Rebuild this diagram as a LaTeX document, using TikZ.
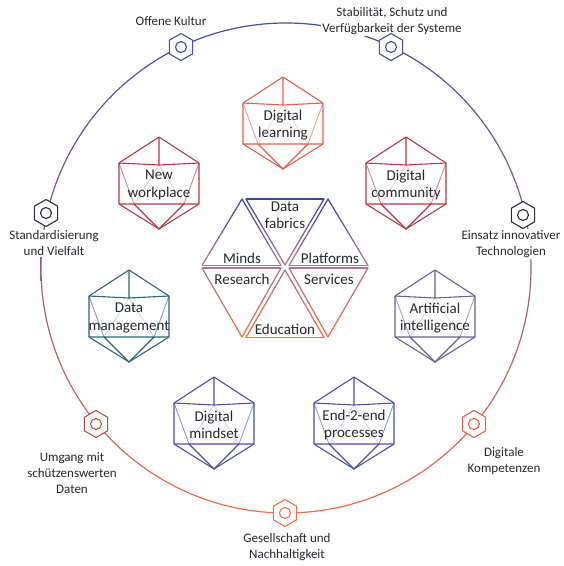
\documentclass[tikz,border=0pt]{standalone}
\usepackage{fontspec}
\setmainfont{Carlito}
\usetikzlibrary{positioning,
        calc,
        shapes.geometric}
\usepackage{xcolor}

\definecolor{ringblue}{HTML}{454CA6}
\definecolor{ringmid}{HTML}{8E5C7C}
\definecolor{ringorange}{HTML}{F0704C}
\definecolor{hexdark}{HTML}{2E2E38}
\definecolor{hexbrown}{HTML}{A8553F}
\definecolor{triblue}{HTML}{3E46AC}
\definecolor{trimid}{HTML}{B0788C}
\definecolor{triorange}{HTML}{F0704C}
\definecolor{icoorange}{HTML}{E2604C}
\definecolor{icored}{HTML}{B23A48}
\definecolor{icoteal}{HTML}{2F6478}
\definecolor{icoblue}{HTML}{4A50A4}
\definecolor{icogrey}{HTML}{66648C}
\definecolor{textdark}{HTML}{26292E}

\tikzset{
    hexnode/.style={regular polygon,regular polygon sides=6,shape border rotate=30,
        minimum size=27pt,inner sep=0pt,fill=white,draw=#1,line width=1.1pt,
        path picture={\draw[#1,line width=1.1pt] (path picture bounding box.center) circle (5.5pt);}},
    ringlabel/.style={align=center,fill=white,inner sep=1pt,text=textdark,
        font=\fontsize{13}{16}\selectfont},
    bodylabel/.style={align=center,inner sep=0pt,text=textdark,
        font=\fontsize{15}{17.5}\selectfont}
}

% slanted edge, coloured in small steps
\newcommand{\gradedge}[4]{
    \foreach \i in {0,...,11}{
        \pgfmathsetmacro{\p}{\i*100/11}
        \pgfmathsetmacro{\u}{\i/12}
        \pgfmathsetmacro{\v}{(\i+1)/12}
        \draw[#4!\p!#3,line width=1.25pt,line cap=round] ($(#1)!\u!(#2)$) -- ($(#1)!\v!(#2)$);
    }
}

\begin{document}
\begin{tikzpicture}[x=1pt,y=-1pt]
    \useasboundingbox (0,0) rectangle (564,566);

    % outer ring
    \begin{scope}[even odd rule]
        \clip (286,268) circle (245.6pt) (286,268) circle (244.4pt);
        \shade[top color=ringblue,middle color=ringmid,bottom color=ringorange] (30,20) rectangle (540,516);
    \end{scope}

    \node [ringlabel] (kulturtext) at (171,21) {Offene Kultur};
    \node [ringlabel] (systemtext) at (392,21) {Stabilität, Schutz und\\Verfügbarkeit der Systeme};
    \node [ringlabel] (vielfalttext) at (54,243.5) {Standardisierung\\und Vielfalt};
    \node [ringlabel] (technotext) at (511,244) {Einsatz innovativer\\Technologien};
    \node [ringlabel] (datentext) at (72,473) {Umgang mit\\schützenswerten\\Daten};
    \node [ringlabel] (kompetenztext) at (504,461.5) {Digitale\\Kompetenzen};
    \node [ringlabel] (gesellschafttext) at (287,547.5) {Gesellschaft und\\Nachhaltigkeit};

    \node [hexnode=ringblue] (kultur) at (181,47) {};
    \node [hexnode=ringblue] (system) at (391,47) {};
    \node [hexnode=hexdark] (vielfalt) at (46,213) {};
    \node [hexnode=hexdark] (techno) at (523,215) {};
    \node [hexnode=hexbrown] (daten) at (96,424) {};
    \node [hexnode=icoorange] (kompetenz) at (474,424) {};
    \node [hexnode=ringorange] (gesellschaft) at (285,513) {};

    % bodies around the middle
    \foreach \name/\cx/\cy/\col/\txt in {
        learning/283/123/icoorange/{Digital\\learning},
        workplace/159/183/icored/{New\\workplace},
        community/406/183/icored/{Digital\\community},
        management/129/316/icoteal/{Data\\management},
        intelligence/435/316/icogrey/{Artificial\\intelligence},
        mindset/214/423/icoblue/{Digital\\mindset},
        processes/354/423/icoblue/{End-2-end\\processes}}{
        \begin{scope}[shift={(\cx,\cy)}]
            \draw[\col!25,line width=0.8pt] (-25,21) -- (0,-18) -- (25,21);
            \draw[\col!60,line width=0.9pt] (-40,-20) -- (-25,21) (40,-20) -- (25,21);
            \draw[\col,line width=1.1pt,line join=round] (0,-46) -- (40,-20) -- (40,21) -- (0,46) -- (-40,21) -- (-40,-20) -- cycle;
            \draw[\col,line width=1.1pt] (0,-46) -- (0,-18) (-40,-20) -- (0,-18) -- (40,-20) (-40,21) -- (40,21) (-25,21) -- (0,46) -- (25,21);
            \node [bodylabel] (\name) at (0,2) {\txt};
        \end{scope}
    }

    % six triangles
    \coordinate (a1) at (242,199);
    \coordinate (a2) at (202,265.5);
    \coordinate (a3) at (281,265.5);
    \coordinate (b1) at (246,199);
    \coordinate (b2) at (324,199);
    \coordinate (b3) at (285,265);
    \coordinate (c1) at (328,199);
    \coordinate (c2) at (289,265.5);
    \coordinate (c3) at (368,265.5);
    \coordinate (d1) at (202,268);
    \coordinate (d2) at (281,268);
    \coordinate (d3) at (242,337);
    \coordinate (e1) at (285,270);
    \coordinate (e2) at (246,337.5);
    \coordinate (e3) at (324,337.5);
    \coordinate (f1) at (289,268);
    \coordinate (f2) at (368,268);
    \coordinate (f3) at (328,337);

    \draw[triblue,line width=1.25pt] (b1) -- (b2);
    \draw[trimid,line width=1.4pt] (a2) -- (a3) (c2) -- (c3) (d1) -- (d2) (f1) -- (f2);
    \draw[triorange,line width=1.4pt] (e2) -- (e3);
    \gradedge{a1}{a2}{triblue}{trimid}
    \gradedge{a1}{a3}{triblue}{trimid}
    \gradedge{b1}{b3}{triblue}{trimid}
    \gradedge{b2}{b3}{triblue}{trimid}
    \gradedge{c1}{c2}{triblue}{trimid}
    \gradedge{c1}{c3}{triblue}{trimid}
    \gradedge{d1}{d3}{trimid}{triorange}
    \gradedge{d2}{d3}{trimid}{triorange}
    \gradedge{e1}{e2}{trimid}{triorange}
    \gradedge{e1}{e3}{trimid}{triorange}
    \gradedge{f1}{f3}{trimid}{triorange}
    \gradedge{f2}{f3}{trimid}{triorange}

    \node [bodylabel] (fabrics) at (285,215) {Data\\fabrics};
    \node [bodylabel] (minds) at (242,258) {Minds};
    \node [bodylabel] (platforms) at (330,258) {Platforms};
    \node [bodylabel] (research) at (242,279) {Research};
    \node [bodylabel] (services) at (329,279) {Services};
    \node [bodylabel] (education) at (285,329) {Education};
\end{tikzpicture}
\end{document}
